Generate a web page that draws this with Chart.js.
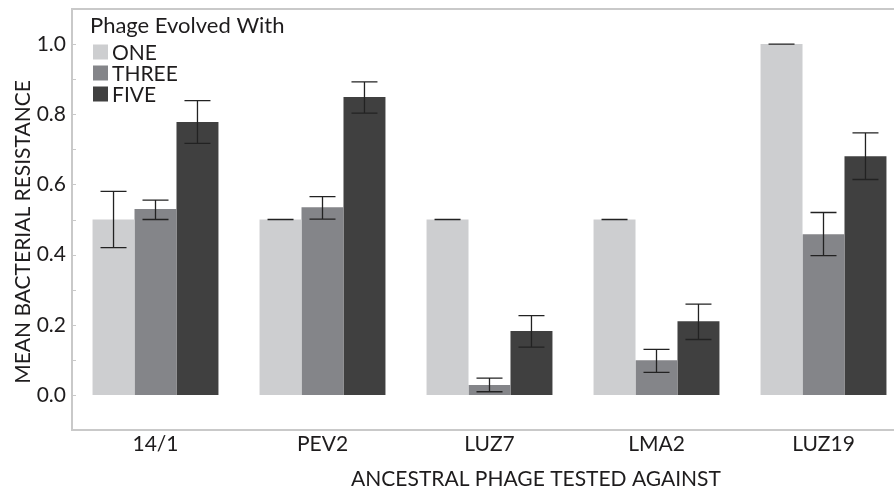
<!DOCTYPE html>
<html><head><meta charset="utf-8">
<script src="https://cdn.jsdelivr.net/npm/chart.js@4/dist/chart.umd.min.js"></script>
<style>
html,body{margin:0;padding:0;overflow:hidden;background:#fff;width:894px;height:488px}
#wrap{width:907px;height:488px}
canvas{display:block}
</style>
</head><body><div id="wrap"><canvas id="c" width="907" height="488"></canvas></div>
<script>
const categories = ['14/1', 'PEV2', 'LUZ7', 'LMA2', 'LUZ19'];
const seriesNames = ['ONE', 'THREE', 'FIVE'];
const seriesColors = ['#cdced0', '#848589', '#404040'];
const oneValues   = [0.50, 0.50, 0.50, 0.50, 1.00];
const threeValues = [0.53, 0.535, 0.028, 0.099, 0.458];
const fiveValues  = [0.778, 0.849, 0.182, 0.21, 0.68];
const oneLow   = [0.42, 0.50, 0.50, 0.50, 1.00];
const oneHigh  = [0.58, 0.50, 0.50, 0.50, 1.00];
const threeLow  = [0.50, 0.501, 0.009, 0.064, 0.397];
const threeHigh = [0.555, 0.565, 0.048, 0.130, 0.52];
const fiveLow  = [0.717, 0.803, 0.136, 0.158, 0.614];
const fiveHigh = [0.839, 0.892, 0.226, 0.259, 0.747];
const yTickValues = [0.0, 0.2, 0.4, 0.6, 0.8, 1.0];
const legendTitle = 'Phage Evolved With';
const xTitle = 'ANCESTRAL PHAGE TESTED AGAINST';
const yTitle = 'MEAN BACTERIAL RESISTANCE';

const FONT = 'Lato, "Open Sans", sans-serif';
const TXT = '#1e1c1d';
const AXIS = '#c9c9c9';
const lows = [oneLow, threeLow, fiveLow];
const highs = [oneHigh, threeHigh, fiveHigh];

const decor = {
  id: 'decor',
  afterDatasetsDraw(chart) {
    const ctx = chart.ctx, y = chart.scales.y;
    ctx.save();
    ctx.strokeStyle = '#222';
    ctx.lineWidth = 1.3;
    chart.data.datasets.forEach((ds, di) => {
      const meta = chart.getDatasetMeta(di);
      meta.data.forEach((bar, i) => {
        const x = bar.x;
        const yl = y.getPixelForValue(lows[di][i]);
        const yh = y.getPixelForValue(highs[di][i]);
        const hw = 13;
        ctx.beginPath();
        ctx.moveTo(x, yl); ctx.lineTo(x, yh);
        ctx.moveTo(x - hw, yl); ctx.lineTo(x + hw, yl);
        ctx.moveTo(x - hw, yh); ctx.lineTo(x + hw, yh);
        ctx.stroke();
      });
    });
    ctx.restore();
  },
  afterDraw(chart) {
    const ctx = chart.ctx, ca = chart.chartArea, y = chart.scales.y;
    ctx.save();
    ctx.strokeStyle = AXIS; ctx.lineWidth = 2;
    ctx.beginPath(); ctx.moveTo(ca.left - 1, ca.top); ctx.lineTo(chart.width, ca.top); ctx.stroke();
    ctx.lineWidth = 1;
    y.ticks.forEach(t => {
      const py = Math.round(y.getPixelForValue(t.value)) + 0.5;
      ctx.beginPath(); ctx.moveTo(ca.left, py); ctx.lineTo(ca.left + 4, py); ctx.stroke();
    });
    ctx.fillStyle = TXT;
    ctx.font = '22px ' + FONT;
    ctx.textBaseline = 'alphabetic';
    ctx.textAlign = 'left';
    ctx.fillText(legendTitle, 90, 33);
    chart.data.datasets.forEach((ds, i) => {
      const cy = 52 + i * 21;
      ctx.fillStyle = ds.backgroundColor;
      ctx.fillRect(93, cy - 7.5, 15, 15);
      ctx.fillStyle = TXT;
      ctx.font = '21px ' + FONT;
      ctx.textBaseline = 'middle';
      ctx.fillText(ds.label, 112, cy + 1);
    });
    ctx.font = '21px ' + FONT;
    ctx.textAlign = 'center';
    ctx.textBaseline = 'alphabetic';
    ctx.fillText(xTitle, 536, 486);
    ctx.translate(30, 232);
    ctx.rotate(-Math.PI / 2);
    ctx.fillText(yTitle, 0, 0);
    ctx.restore();
  }
};

new Chart(document.getElementById('c'), {
  type: 'bar',
  data: {
    labels: categories,
    datasets: [
      { label: seriesNames[0], data: oneValues, backgroundColor: seriesColors[0] },
      { label: seriesNames[1], data: threeValues, backgroundColor: seriesColors[1] },
      { label: seriesNames[2], data: fiveValues, backgroundColor: seriesColors[2] }
    ]
  },
  options: {
    responsive: false,
    animation: false,
    devicePixelRatio: 1,
    layout: { padding: { top: 9, right: 0, left: 0, bottom: 0 } },
    datasets: { bar: { barPercentage: 1.0, categoryPercentage: 0.754, borderWidth: 0 } },
    plugins: { legend: { display: false }, tooltip: { enabled: false } },
    scales: {
      x: {
        grid: { display: false, drawTicks: false },
        border: { display: true, color: AXIS, width: 2 },
        ticks: { color: TXT, font: { family: FONT, size: 21 }, padding: 2, maxRotation: 0 },
        afterFit(s) { s.height = 58; s.paddingLeft = 0; s.paddingRight = 0; }
      },
      y: {
        min: -0.1, max: 1.1,
        grid: { display: false, drawTicks: false },
        border: { display: true, color: AXIS, width: 2 },
        afterBuildTicks(s) {
          const t = [];
          for (let k = -1; k <= 11; k++) t.push({ value: k / 10 });
          s.ticks = t;
        },
        ticks: {
          color: TXT, font: { family: FONT, size: 21 }, padding: 6,
          callback(v) {
            const r = Math.round(v * 10) / 10;
            return yTickValues.some(q => Math.abs(q - r) < 1e-9) ? r.toFixed(1) : '';
          }
        },
        afterFit(s) { s.width = 72; s.paddingTop = 0; s.paddingBottom = 0; }
      }
    }
  },
  plugins: [decor]
});
</script>
</body></html>
